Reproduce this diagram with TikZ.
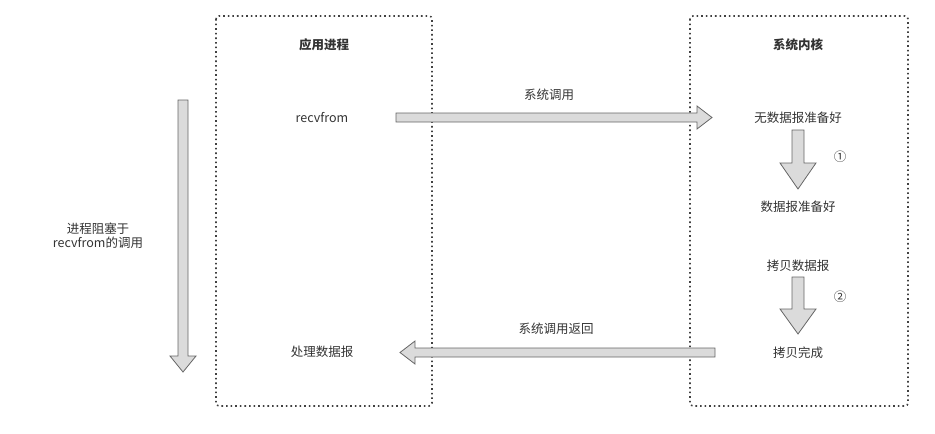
\documentclass[tikz,border=0pt]{standalone}
\usepackage{fontspec}
\setmainfont{Noto Sans CJK SC}
\begin{document}
\begin{tikzpicture}[x=1pt,y=-1pt,
  lbl/.style={font=\fontsize{12.5}{14}\selectfont,text=black!80,inner sep=1pt},
  ttl/.style={lbl,font=\fontsize{12.5}{14}\selectfont\bfseries},
  dotbox/.style={draw=black!75,line width=1.6pt,dash pattern=on 1.6pt off 3pt,rounded corners=3pt},
  barrow/.style={draw=black!60,fill=black!14,line width=0.8pt,line join=miter}]
\useasboundingbox (0,0) rectangle (935,434);
\draw[dotbox] (216,16) rectangle (432,406);
\draw[dotbox] (690,16) rectangle (908,406);
\node[ttl] (t1) at (324,45) {应用进程};
\node[ttl] (t2) at (798,45) {系统内核};
\node[lbl] (recv) at (322,118) {recvfrom};
\node[lbl] (sc) at (549,95) {系统调用};
\node[lbl] (k1) at (798,118) {无数据报准备好};
\node[lbl] (c1) at (840,157) {①};
\node[lbl] (k2) at (798,207) {数据报准备好};
\node[lbl] (k3) at (798,266) {拷贝数据报};
\node[lbl] (c2) at (840,297) {②};
\node[lbl] (k4) at (798,353) {拷贝完成};
\node[lbl] (scr) at (556,329) {系统调用返回};
\node[lbl] (proc) at (322,352) {处理数据报};
\node[lbl,align=center] (blk) at (98,236) {进程阻塞于\\recvfrom的调用};
% left long arrow
\draw[barrow] (178,100) -- (188,100) -- (188,356) -- (196,356) -- (183,372) -- (170,356) -- (178,356) -- cycle;
% recvfrom -> kernel
\draw[barrow] (396,113) -- (697,113) -- (697,106) -- (712,117.5) -- (697,129) -- (697,122) -- (396,122) -- cycle;
% return arrow
\draw[barrow] (715,348) -- (415,348) -- (415,341) -- (400,352.5) -- (415,364) -- (415,357) -- (715,357) -- cycle;
% step 1
\draw[barrow] (792,130) -- (804,130) -- (804,163) -- (816,163) -- (798,189) -- (780,163) -- (792,163) -- cycle;
% step 2
\draw[barrow] (792,277) -- (804,277) -- (804,309) -- (816,309) -- (798,334) -- (780,309) -- (792,309) -- cycle;
\end{tikzpicture}
\end{document}
